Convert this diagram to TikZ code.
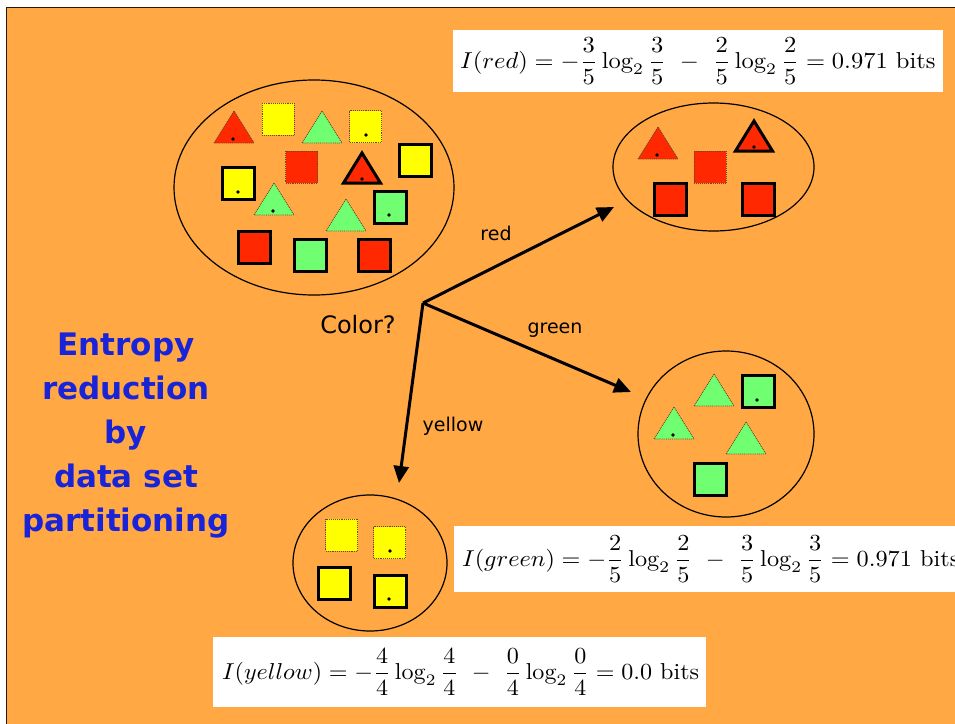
\documentclass[tikz,border=0pt]{standalone}
\usepackage{fontspec}
\usepackage{amsmath}
\usetikzlibrary{arrows.meta}
\newfontfamily\labelfont{DejaVu Sans}
\definecolor{bgorange}{RGB}{255,168,68}
\definecolor{cred}{RGB}{255,40,0}
\definecolor{cyellow}{RGB}{255,255,0}
\definecolor{cgreen}{RGB}{112,255,112}
\definecolor{titleblue}{RGB}{25,35,215}
\definecolor{dotline}{RGB}{110,70,30}
\begin{document}
\begin{tikzpicture}[x=1pt,y=-1pt,
  setbox/.style={draw=black, line width=1.2pt},
  thickline/.style={draw=black, line width=3pt, line join=miter},
  dotline/.style={draw=dotline, line width=0.9pt, densely dotted},
  sq/.pic={\path[pic actions] (-16,-16) rectangle (16,16);},
  tri/.pic={\path[pic actions] (0,0) -- (20,32) -- (-20,32) -- cycle;},
  trithick/.pic={\path[pic actions] (0,0) -- (18.5,30) -- (-18.5,30) -- cycle;},
  dot/.style={fill=black},
  branch/.style={line width=3pt, -{Triangle[length=17pt,width=15pt]}},
  branchlabel/.style={font=\labelfont\fontsize{19}{22}\selectfont, inner sep=0pt},
  formulabox/.style={fill=white, draw=none}
]
\useasboundingbox (0,0) rectangle (955,723);
\clip (0,0) rectangle (955,723);

% slide background
\fill[bgorange] (6,7) rectangle (980,740);
\draw[line width=1.8pt, black!85!bgorange] (6.5,740) -- (6.5,7.5) -- (980,7.5);

% ---- full data set ----
\draw[setbox] (314,187.5) ellipse [x radius=140, y radius=107.5];
\pic[dotline, fill=cred] at (234,111) {tri};
\fill[dot] (233,139) circle (1.8);
\pic[dotline, fill=cyellow] at (278,119) {sq};
\pic[dotline, fill=cgreen] at (322,111) {tri};
\pic[dotline, fill=cyellow] at (365.5,126.5) {sq};
\fill[dot] (366,135) circle (1.8);
\pic[dotline, fill=cred] at (301.5,167) {sq};
\pic[thickline, fill=cred] at (362,153) {trithick};
\fill[dot] (362,179) circle (1.8);
\pic[thickline, fill=cyellow] at (415,160) {sq};
\pic[thickline, fill=cyellow] at (238.5,183.5) {sq};
\fill[dot] (238,192) circle (1.8);
\pic[dotline, fill=cgreen] at (274,183) {tri};
\fill[dot] (273,211) circle (1.8);
\pic[thickline, fill=cgreen] at (390.5,207.5) {sq};
\fill[dot] (389,215) circle (1.8);
\pic[dotline, fill=cgreen] at (346,199) {tri};
\pic[thickline, fill=cred] at (254.5,247) {sq};
\pic[thickline, fill=cgreen] at (310.5,255.5) {sq};
\pic[thickline, fill=cred] at (374.5,255.5) {sq};

% ---- red subset ----
\draw[setbox] (713.5,167) ellipse [x radius=100.5, y radius=64];
\pic[dotline, fill=cred] at (658,127) {tri};
\fill[dot] (657,155) circle (1.8);
\pic[dotline, fill=cred] at (710,167) {sq};
\pic[thickline, fill=cred] at (754,121) {trithick};
\fill[dot] (754,147) circle (1.8);
\pic[thickline, fill=cred] at (670.5,199.5) {sq};
\pic[thickline, fill=cred] at (758.5,199.5) {sq};

% ---- green subset ----
\draw[setbox] (726,434) ellipse [x radius=88, y radius=83];
\pic[dotline, fill=cgreen] at (714,374) {tri};
\pic[thickline, fill=cgreen] at (758.5,391.5) {sq};
\fill[dot] (757,400) circle (1.8);
\pic[dotline, fill=cgreen] at (674,407) {tri};
\fill[dot] (673,435) circle (1.8);
\pic[dotline, fill=cgreen] at (746,422) {tri};
\pic[thickline, fill=cgreen] at (710.5,479.5) {sq};

% ---- yellow subset ----
\draw[setbox] (370,563) ellipse [x radius=77, y radius=68];
\pic[dotline, fill=cyellow] at (341.5,535) {sq};
\pic[dotline, fill=cyellow] at (389.5,542.5) {sq};
\fill[dot] (390,551) circle (1.8);
\pic[thickline, fill=cyellow] at (334.5,583.5) {sq};
\pic[thickline, fill=cyellow] at (390.5,591.5) {sq};
\fill[dot] (389,599) circle (1.8);

% ---- split on colour ----
\coordinate (split) at (423,303);
\coordinate (tored) at (614,207);
\coordinate (togreen) at (631,392);
\coordinate (toyellow) at (399,483);
\draw[branch] (split) -- (tored);
\draw[branch] (split) -- (togreen);
\draw[branch] (split) -- (toyellow);

\node[font=\labelfont\fontsize{24}{28}\selectfont, inner sep=0pt] (question) at (358,325) {Color?};
\node[branchlabel] (lred) at (496,233) {red};
\node[branchlabel] (lgreen) at (555,330) {green};
\node[branchlabel] (lyellow) at (453,426) {yellow};

% ---- caption ----
\node[align=center, text=titleblue, inner sep=0pt,
      font=\labelfont\bfseries\fontsize{31}{44}\selectfont] (caption) at (126,436)
  {Entropy\\reduction\\by\\data set\\partitioning};

% ---- entropy of each subset ----
\fill[formulabox] (453,30) rectangle (943,92);
\node[anchor=west, inner sep=0pt] (ired) at (460,61)
  {\scalebox{2.45}[2.3]{$\displaystyle I(red) = -\frac{3}{5}\log_2\frac{3}{5}\ -\ \frac{2}{5}\log_2\frac{2}{5} = 0.971\ \mathrm{bits}$}};

\fill[formulabox] (454,526) rectangle (990,592);
\node[anchor=west, inner sep=0pt] (igreen) at (462,559)
  {\scalebox{2.43}[2.3]{$\displaystyle I(green) = -\frac{2}{5}\log_2\frac{2}{5}\ -\ \frac{3}{5}\log_2\frac{3}{5} = 0.971\ \mathrm{bits}$}};

\fill[formulabox] (213,637) rectangle (706,707);
\node[anchor=west, inner sep=0pt] (iyellow) at (222,672)
  {\scalebox{2.41}[2.3]{$\displaystyle I(yellow) = -\frac{4}{4}\log_2\frac{4}{4}\ -\ \frac{0}{4}\log_2\frac{0}{4} = 0.0\ \mathrm{bits}$}};
\end{tikzpicture}
\end{document}
